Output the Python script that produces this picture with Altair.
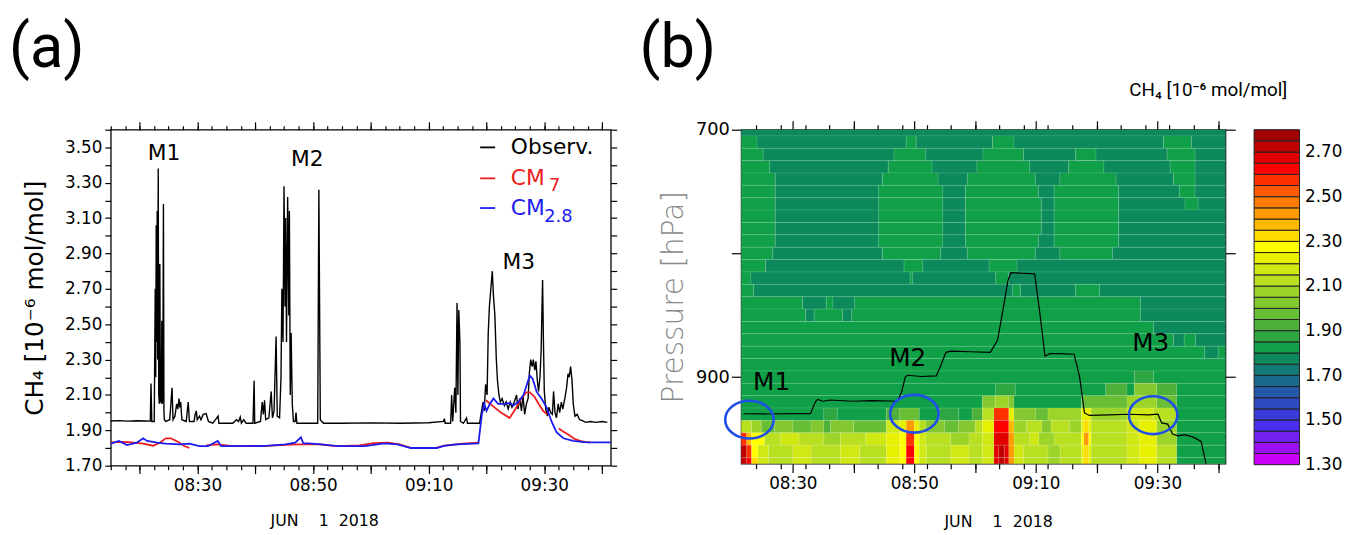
import altair as alt
import pandas as pd

FONT = "DejaVu Sans"

# ---------------- Panel (a): time in minutes after 08:00 (1 June 2018) ----------------
OBS_POINTS = [
    (15.0, 1.953), (16.5, 1.955), (18.0, 1.952), (19.5, 1.954), (21.0, 1.953), (21.84, 1.952),
    (21.96, 2.165), (22.1, 1.95), (22.52, 1.95), (22.69, 2.70), (22.78, 2.20), (22.86, 3.06),
    (22.95, 2.40), (23.03, 3.14), (23.12, 2.30), (23.21, 3.38), (23.3, 2.10), (23.4, 2.05),
    (23.49, 2.84), (23.58, 2.06), (23.66, 2.10), (23.75, 2.05), (23.83, 2.52), (23.92, 2.05),
    (24.0, 2.10), (24.11, 3.18), (24.2, 2.00), (24.28, 1.96), (24.5, 1.95), (25.2, 1.96),
    (25.6, 2.14), (25.77, 1.96), (26.1, 1.98), (26.4, 2.05), (26.6, 2.02), (26.8, 2.08),
    (26.95, 2.03), (27.1, 2.06), (27.3, 1.96), (28.05, 1.95), (28.4, 2.06), (28.6, 1.95),
    (29.4, 1.95), (29.6, 1.99), (29.8, 2.01), (29.95, 1.96), (30.35, 1.98), (30.6, 1.96),
    (31.0, 1.99), (31.5, 1.995), (31.9, 1.95), (32.65, 1.94), (33.57, 1.98), (33.7, 1.94),
    (36.1, 1.94), (36.75, 1.96), (37.1, 1.95), (37.4, 1.975), (37.6, 1.94), (38.0, 1.96),
    (38.4, 1.94), (39.6, 1.94), (39.8, 2.18), (39.9, 1.94), (40.9, 1.95), (41.2, 2.06),
    (41.4, 1.99), (41.6, 2.07), (41.8, 1.96), (42.35, 1.97), (42.75, 2.12), (42.97, 1.97),
    (43.25, 2.01), (43.6, 2.43), (43.8, 1.98), (44.2, 1.97), (44.45, 2.20), (44.6, 2.70),
    (44.8, 2.40), (44.97, 3.28), (45.14, 2.60), (45.25, 3.10), (45.4, 2.40), (45.6, 3.22),
    (45.8, 2.55), (45.9, 3.14), (46.05, 2.10), (46.2, 2.45), (46.4, 2.05), (46.6, 1.95),
    (46.9, 1.95), (47.05, 2.00), (47.2, 1.94), (50.8, 1.94), (51.0, 3.26), (51.25, 1.96),
    (51.8, 1.94), (55.0, 1.94), (60.0, 1.942), (65.0, 1.94), (70.0, 1.943), (72.55, 1.95),
    (72.7, 1.966), (72.85, 1.94), (73.8, 1.94), (73.97, 2.10), (74.15, 1.95), (74.5, 2.14),
    (74.7, 2.00), (74.9, 2.62), (75.05, 2.10), (75.2, 2.58), (75.4, 2.40), (75.5, 1.95),
    (76.0, 1.94), (76.55, 1.97), (76.7, 1.94), (78.8, 1.94), (79.15, 2.01), (79.4, 2.06),
    (79.6, 2.01), (79.85, 2.16), (80.1, 2.10), (80.3, 2.45), (80.5, 2.60), (80.8, 2.72),
    (81.0, 2.80), (81.2, 2.66), (81.45, 2.55), (81.7, 2.30), (81.9, 2.18), (82.15, 2.10),
    (82.4, 2.06), (82.7, 2.08), (83.1, 2.04), (83.4, 2.06), (83.75, 2.02), (84.1, 2.06),
    (84.4, 2.03), (84.8, 2.06), (85.2, 2.10), (85.45, 2.02), (85.75, 2.08), (86.05, 2.01),
    (86.3, 2.10), (86.6, 1.99), (86.9, 2.05), (87.2, 2.08), (87.4, 2.22), (87.65, 2.30),
    (87.9, 2.26), (88.1, 2.30), (88.35, 2.24), (88.55, 2.29), (88.8, 2.18), (89.0, 2.12),
    (89.25, 2.20), (89.45, 2.35), (89.7, 2.75), (89.85, 2.40), (90.0, 2.12), (90.25, 2.02),
    (90.55, 1.98), (90.8, 2.03), (91.1, 2.00), (91.4, 1.99), (91.6, 2.12), (91.85, 2.00),
    (92.1, 1.97), (92.4, 2.05), (92.65, 2.00), (92.95, 2.06), (93.2, 2.02), (93.55, 2.08),
    (93.85, 2.14), (94.1, 2.22), (94.3, 2.20), (94.55, 2.26), (94.8, 2.18), (95.0, 2.05),
    (95.3, 1.98), (95.7, 1.99), (96.1, 1.96), (96.6, 1.955), (97.15, 1.945), (98.0, 1.95),
    (98.9, 1.945), (100.0, 1.95), (100.9, 1.945),
]

# CM_7 model (segments separated by gaps)
CM7_SEGMENTS = [
    [(15.0, 1.83), (16.5, 1.835), (18.1, 1.833), (20.6, 1.825), (22.3, 1.813), (23.5, 1.83),
     (24.5, 1.855), (25.4, 1.855), (26.6, 1.835), (27.8, 1.81), (28.6, 1.80)],
    [(31.5, 1.815), (33.5, 1.82), (36.0, 1.81), (42.0, 1.812), (47.0, 1.82), (49.0, 1.82),
     (51.0, 1.82), (54.0, 1.81), (58.0, 1.815), (60.5, 1.828), (63.0, 1.83), (65.0, 1.82),
     (67.0, 1.80), (71.0, 1.80), (73.0, 1.815), (76.0, 1.825), (78.6, 1.83)],
    [(79.9, 2.07), (81.0, 2.04), (82.5, 2.00), (84.0, 1.97), (85.0, 2.02), (86.0, 2.08),
     (86.9, 2.115), (87.5, 2.115), (88.3, 2.09), (89.0, 2.05), (89.8, 2.01), (90.5, 1.99)],
    [(92.5, 1.91), (93.4, 1.89), (94.2, 1.875), (95.3, 1.85), (96.2, 1.84), (97.0, 1.835),
     (98.0, 1.832)],
]

# CM_2.8 model
CM28_POINTS = [
    (15.0, 1.825), (16.4, 1.84), (17.8, 1.817), (19.5, 1.83), (20.6, 1.855), (21.3, 1.84),
    (23.0, 1.83), (24.5, 1.825), (27.0, 1.82), (28.6, 1.825), (30.35, 1.81), (31.8, 1.81),
    (33.5, 1.84), (34.1, 1.81), (36.1, 1.81), (41.8, 1.812), (45.2, 1.82), (46.9, 1.83),
    (47.9, 1.86), (48.3, 1.826), (49.2, 1.826), (51.5, 1.82), (54.3, 1.81), (58.9, 1.81),
    (62.3, 1.826), (64.6, 1.82), (66.9, 1.80), (71.4, 1.80), (72.6, 1.812), (74.9, 1.82),
    (78.6, 1.826), (79.2, 1.99), (79.6, 2.05), (80.0, 2.01), (80.6, 2.05), (81.2, 2.08),
    (82.0, 2.05), (83.2, 2.05), (84.1, 2.055), (84.6, 2.04), (85.5, 2.06), (86.4, 2.10),
    (87.1, 2.17), (87.5, 2.21), (88.0, 2.19), (88.65, 2.12), (89.5, 2.08), (90.4, 2.03),
    (91.25, 1.95), (92.1, 1.89), (93.3, 1.855), (95.0, 1.84), (97.3, 1.832), (101.5, 1.832),
]

EVENT_LABELS = ["M1", "M2", "M3"]
EVENT_T_A = [24.2, 49.0, 85.6]
EVENT_V_A = [3.468, 3.434, 2.853]

LEGEND_NAMES = ["Observ.", "CM", "CM"]
LEGEND_SUBS = ["", "7", "2.8"]
LEGEND_COLORS = ["black", "#ee1c1c", "#1c1cf0"]
LEGEND_V = [3.50, 3.325, 3.157]
LEGEND_SUB_T = [None, 90.8, 90.0]
LEGEND_SUB_V = [None, 3.283, 3.108]

# ---------------- Panel (b): model CH4 curtain (pressure levels, hPa) ----------------
D, G = 1.78, 1.83
HEAT_ROWS = {
    700: [(21.5, 101.2, D)],
    710: [(21.5, 24.1, G), (24.1, 48.65, D), (48.65, 50.3, G), (50.3, 62.85, D), (62.85, 66.4, G),
          (66.4, 91.0, D), (91.0, 95.6, G), (95.6, 101.2, D)],
    720: [(21.5, 25.1, G), (25.1, 46.65, D), (46.65, 51.9, G), (51.9, 61.3, D), (61.3, 68.0, G),
          (68.0, 76.55, D), (76.55, 79.9, G), (79.9, 91.6, D), (91.6, 96.2, G), (96.2, 101.2, D)],
    730: [(21.5, 26.2, G), (26.2, 45.7, D), (45.7, 52.9, G), (52.9, 60.3, D), (60.3, 69.0, G),
          (69.0, 75.4, D), (75.4, 81.2, G), (81.2, 92.1, D), (92.1, 96.2, G), (96.2, 101.2, D)],
    740: [(21.5, 27.1, G), (27.1, 44.75, D), (44.75, 53.9, G), (53.9, 58.7, D), (58.7, 69.9, G),
          (69.9, 73.95, D), (73.95, 83.2, G), (83.2, 92.65, D), (92.65, 96.2, G), (96.2, 101.2, D)],
    750: [(21.5, 27.1, G), (27.1, 44.15, D), (44.15, 54.7, G), (54.7, 58.4, D), (58.4, 70.4, G),
          (70.4, 73.0, D), (73.0, 83.6, G), (83.6, 93.6, D), (93.6, 96.2, G), (96.2, 101.2, D)],
    760: [(21.5, 27.1, G), (27.1, 44.15, D), (44.15, 54.7, G), (54.7, 58.4, D), (58.4, 70.9, G),
          (70.9, 73.0, D), (73.0, 83.6, G), (83.6, 94.55, D), (94.55, 96.7, G), (96.7, 101.2, D)],
    770: [(21.5, 27.1, G), (27.1, 44.15, D), (44.15, 54.7, G), (54.7, 58.4, D), (58.4, 70.9, G),
          (70.9, 73.0, D), (73.0, 83.6, G), (83.6, 101.2, D)],
    780: [(21.5, 27.1, G), (27.1, 44.15, D), (44.15, 54.7, G), (54.7, 58.4, D), (58.4, 70.9, G),
          (70.9, 73.0, D), (73.0, 83.6, G), (83.6, 101.2, D)],
    790: [(21.5, 27.1, G), (27.1, 44.15, D), (44.15, 54.7, G), (54.7, 58.4, D), (58.4, 70.4, G),
          (70.4, 73.0, D), (73.0, 83.6, G), (83.6, 101.2, D)],
    800: [(21.5, 26.7, G), (26.7, 44.75, D), (44.75, 54.35, G), (54.35, 58.7, D), (58.7, 69.9, G),
          (69.9, 73.95, D), (73.95, 82.6, G), (82.6, 101.2, D)],
    810: [(21.5, 25.5, G), (25.5, 48.3, D), (48.3, 51.4, G), (51.4, 62.3, D), (62.3, 66.9, G),
          (66.9, 101.2, D)],
    820: [(21.5, 23.1, G), (23.1, 49.3, D), (49.3, 49.75, G), (49.75, 63.4, D), (63.4, 65.55, G),
          (65.55, 101.2, D)],
    830: [(21.5, 23.55, G), (23.55, 66.2, D), (66.2, 67.45, G), (67.45, 76.55, D), (76.55, 80.46, G),
          (80.46, 101.2, D)],
    840: [(21.5, 31.6, G), (31.6, 35.5, D), (35.5, 36.6, G), (36.6, 40.2, D), (40.2, 87.2, G),
          (87.2, 101.2, D)],
    850: [(21.5, 32.1, G), (32.1, 33.5, D), (33.5, 38.2, G), (38.2, 39.7, D), (39.7, 87.2, G),
          (87.2, 101.2, D)],
    860: [(21.5, 89.4, G), (89.4, 101.2, D)],
    870: [(21.5, 92.65, G), (92.65, 94.4, D), (94.4, 96.3, G), (96.3, 101.2, D)],
    880: [(21.5, 97.8, G), (97.8, 100.0, D), (100.0, 101.2, G)],
    890: [(21.5, 101.2, G)],
    900: [(21.5, 86.2, G), (86.2, 89.4, 1.88), (89.4, 101.2, G)],
    910: [(21.5, 63.4, G), (63.4, 66.6, 1.88), (66.6, 81.5, G), (81.5, 85.0, 1.93), (85.0, 86.2, G),
          (86.2, 89.9, 2.03), (89.9, 93.2, 1.93), (93.2, 101.2, G)],
    920: [(21.5, 61.2, G), (61.2, 63.3, 2.03), (63.3, 65.55, 2.08), (65.55, 66.4, 2.03), (66.4, 77.5, G),
          (77.5, 85.0, 1.98), (85.0, 89.9, 2.08), (89.9, 93.2, 1.98), (93.2, 101.2, G)],
    930: [(21.5, 35.1, G), (35.1, 37.3, 1.88), (37.3, 45.4, G), (45.4, 47.6, 1.93), (47.6, 50.8, 1.98),
          (50.8, 54.1, G), (54.1, 57.3, 1.88), (57.3, 59.5, G), (59.5, 61.2, 1.93), (61.2, 63.1, 2.13),
          (63.1, 65.55, 2.58), (65.55, 66.4, 2.23), (66.4, 70.0, 2.03), (70.0, 72.0, 1.98), (72.0, 77.5, 2.08),
          (77.5, 79.1, 2.23), (79.1, 85.0, 2.08), (85.0, 89.4, 2.18), (89.4, 93.2, 2.13), (93.2, 101.2, G)],
    940: [(21.5, 23.2, 2.13), (23.2, 24.8, 2.08), (24.8, 27.0, 1.98), (27.0, 30.0, 2.03), (30.0, 33.0, 1.98),
          (33.0, 35.1, 2.03), (35.1, 36.2, 1.93), (36.2, 40.0, 2.03), (40.0, 45.4, 1.98), (45.4, 47.6, 2.18),
          (47.6, 48.65, 2.23), (48.65, 50.0, 2.43), (50.0, 50.8, 2.23), (50.8, 51.9, 2.13), (51.9, 55.0, 2.03),
          (55.0, 57.3, 1.98), (57.3, 60.0, 2.03), (60.0, 61.2, 2.13), (61.2, 63.1, 2.23), (63.1, 65.55, 2.63),
          (65.55, 66.4, 2.38), (66.4, 68.5, 2.08), (68.5, 71.0, 2.13), (71.0, 72.5, 2.03), (72.5, 75.5, 2.13),
          (75.5, 77.5, 2.08), (77.5, 77.9, 2.23), (77.9, 78.7, 2.33), (78.7, 79.1, 2.23), (79.1, 85.0, 2.13),
          (85.0, 87.0, 2.18), (87.0, 89.9, 2.23), (89.9, 93.2, 2.08), (93.2, 101.2, G)],
    950: [(21.5, 22.4, 2.58), (22.4, 23.2, 2.38), (23.2, 25.35, 2.28), (25.35, 28.0, 2.13), (28.0, 31.0, 2.18),
          (31.0, 35.1, 2.13), (35.1, 37.8, 2.08), (37.8, 42.0, 2.13), (42.0, 45.4, 2.18), (45.4, 47.6, 2.23),
          (47.6, 48.65, 2.28), (48.65, 50.0, 2.58), (50.0, 50.8, 2.28), (50.8, 51.9, 2.18), (51.9, 56.0, 2.13),
          (56.0, 59.0, 2.08), (59.0, 61.2, 2.13), (61.2, 63.1, 2.18), (63.1, 65.55, 2.68), (65.55, 66.4, 2.43),
          (66.4, 69.0, 2.13), (69.0, 70.5, 2.18), (70.5, 73.0, 2.08), (73.0, 77.5, 2.13), (77.5, 77.9, 2.28),
          (77.9, 78.7, 2.43), (78.7, 79.1, 2.28), (79.1, 85.0, 2.13), (85.0, 87.0, 2.18), (87.0, 89.9, 2.23),
          (89.9, 93.2, 2.08), (93.2, 101.2, G)],
    960: [(21.5, 22.4, 2.73), (22.4, 23.2, 2.58), (23.2, 24.25, 2.28), (24.25, 26.0, 2.18), (26.0, 30.0, 2.13),
          (30.0, 33.0, 2.18), (33.0, 37.8, 2.13), (37.8, 41.0, 2.18), (41.0, 45.4, 2.13), (45.4, 47.6, 2.23),
          (47.6, 48.65, 2.28), (48.65, 50.0, 2.63), (50.0, 50.8, 2.28), (50.8, 52.0, 2.18), (52.0, 56.0, 2.13),
          (56.0, 59.0, 2.18), (59.0, 61.2, 2.13), (61.2, 63.1, 2.18), (63.1, 63.9, 2.68), (63.9, 64.8, 2.73),
          (64.8, 65.55, 2.68), (65.55, 66.4, 2.43), (66.4, 68.0, 2.18), (68.0, 72.0, 2.13), (72.0, 74.0, 2.08),
          (74.0, 77.5, 2.13), (77.5, 77.9, 2.23), (77.9, 78.7, 2.33), (78.7, 79.1, 2.23), (79.1, 85.0, 2.13),
          (85.0, 87.0, 2.18), (87.0, 89.9, 2.23), (89.9, 93.2, 2.13), (93.2, 101.2, G)],
    970: [(21.5, 22.4, 2.73), (22.4, 23.2, 2.63), (23.2, 24.25, 2.33), (24.25, 26.0, 2.18), (26.0, 30.0, 2.13),
          (30.0, 33.0, 2.18), (33.0, 37.8, 2.13), (37.8, 41.0, 2.18), (41.0, 45.4, 2.13), (45.4, 47.6, 2.23),
          (47.6, 48.65, 2.28), (48.65, 50.0, 2.63), (50.0, 50.8, 2.28), (50.8, 52.0, 2.18), (52.0, 56.0, 2.13),
          (56.0, 59.0, 2.18), (59.0, 61.2, 2.13), (61.2, 63.1, 2.18), (63.1, 63.9, 2.68), (63.9, 64.8, 2.73),
          (64.8, 65.55, 2.68), (65.55, 66.4, 2.43), (66.4, 68.0, 2.18), (68.0, 72.0, 2.13), (72.0, 74.0, 2.08),
          (74.0, 77.5, 2.13), (77.5, 77.9, 2.23), (77.9, 78.7, 2.33), (78.7, 79.1, 2.23), (79.1, 85.0, 2.13),
          (85.0, 87.0, 2.18), (87.0, 89.9, 2.23), (89.9, 93.2, 2.13), (93.2, 101.2, G)],
}

PRES_POINTS = [
    (21.87, 929.6), (26.0, 929.8), (30.0, 929.5), (32.9, 929.5), (33.7, 920.0), (34.1, 918.0),
    (34.9, 919.5), (36.2, 918.5), (39.8, 919.5), (43.0, 919.0), (47.2, 919.5), (47.9, 912.0),
    (48.5, 900.0), (48.9, 898.5), (51.1, 899.5), (53.6, 899.0), (54.4, 890.0), (55.2, 880.0),
    (56.0, 879.0), (59.3, 879.5), (62.5, 880.0), (63.7, 870.0), (64.6, 845.0), (65.4, 822.0),
    (65.9, 815.5), (67.4, 816.0), (69.8, 816.5), (70.7, 850.0), (71.5, 883.0), (72.3, 881.0),
    (73.9, 881.0), (76.3, 881.5), (77.2, 900.0), (78.0, 929.0), (78.8, 931.0), (82.0, 930.5),
    (85.3, 930.0), (88.5, 930.5), (90.1, 930.0), (90.7, 937.0), (91.7, 938.0), (92.5, 946.0),
    (93.4, 947.5), (94.5, 946.5), (95.9, 948.5), (97.2, 952.0), (98.0, 970.0),
]

EVENT_T_B = [26.5, 48.9, 88.9]
EVENT_P_B = [904.0, 884.8, 872.8]
CIRCLE_T = [22.85, 50.0, 89.3]
CIRCLE_P = [934.4, 929.6, 930.8]

# colour bar: 30 classes of 0.05 from 1.30 to 2.80
CB_COLORS = [
    "#c800f8", "#9a10f0", "#7020f0", "#4a2ef0", "#3a3ad8", "#2e48c0", "#2458a8", "#1a6a8c",
    "#127878", "#0c8a5c", "#10a048", "#2ea642", "#4cb03a", "#68be34", "#84c830", "#9cd42a",
    "#b8e020", "#d0e814", "#e6f000", "#ffff00", "#ffdc00", "#ffb800", "#ff9a00", "#ff7a00",
    "#ff5a00", "#ff3000", "#ff0000", "#e00000", "#c00000", "#a00000",
]
CB_EDGES = [round(1.30 + 0.05 * k, 2) for k in range(31)]
CB_LABELS = [1.3, 1.5, 1.7, 1.9, 2.1, 2.3, 2.5, 2.7]

# ---------------- tables ----------------
obs_df = pd.DataFrame(OBS_POINTS, columns=["t", "v"])
cm7_df = pd.DataFrame([(i, t, v) for i, seg in enumerate(CM7_SEGMENTS) for t, v in seg],
                      columns=["seg", "t", "v"])
cm28_df = pd.DataFrame(CM28_POINTS, columns=["t", "v"])
evA_df = pd.DataFrame({"t": EVENT_T_A, "v": EVENT_V_A, "label": EVENT_LABELS})
leg_df = pd.DataFrame({"name": LEGEND_NAMES, "color": LEGEND_COLORS, "v": LEGEND_V,
                       "t0": 78.9, "t1": 81.5, "tt": 84.2})
sub_df = pd.DataFrame({"sub": LEGEND_SUBS, "color": LEGEND_COLORS, "t": LEGEND_SUB_T,
                       "v": LEGEND_SUB_V}).dropna()

heat_records = []
for lev, segs in HEAT_ROWS.items():
    for t0, t1, val in segs:
        heat_records.append({"t0": t0, "t1": t1, "p0": max(700, lev - 5), "p1": min(970, lev + 5), "ch4": val})
heat_df = pd.DataFrame(heat_records)
pres_df = pd.DataFrame(PRES_POINTS, columns=["t", "p"])
evB_df = pd.DataFrame({"t": EVENT_T_B, "p": EVENT_P_B, "label": EVENT_LABELS})
circ_df = pd.DataFrame({"t": CIRCLE_T, "p": CIRCLE_P})
cb_df = pd.DataFrame({"lo": CB_EDGES[:-1], "hi": CB_EDGES[1:]})
cb_df["mid"] = (cb_df["lo"] + cb_df["hi"]) / 2
cb_df["c0"] = 0.0
cb_df["c1"] = 1.0

color_scale = alt.Scale(type="threshold", domain=CB_EDGES[1:-1], range=CB_COLORS)

# ---------------- helpers ----------------
TIME_LABEL = "datum.value % 20 == 10 ? '0' + floor(8 + datum.value / 60) + ':' + (datum.value % 60) : ''"
DATE_TITLE = "JUN\u00a0\u00a0\u00a0\u00a01\u00a0\u00a02018"


def tick_axis(orient, values, size, **kw):
    props = dict(orient=orient, values=values, tickSize=size, tickWidth=1.2, tickColor="black",
                 domain=False, grid=False, labels=False, title=None)
    props.update(kw)
    return alt.Axis(**props)


# ---------------- panel (a) ----------------
XA = alt.Scale(domain=[15, 101.5], nice=False, zero=False)
YA = alt.Scale(domain=[1.70, 3.60], nice=False, zero=False)
MAJ_A = list(range(20, 101, 10))
MIN_A = [15 + 2.5 * i for i in range(35)]
YT_A = [round(1.7 + 0.1 * i, 1) for i in range(20)]

xa_main = tick_axis("bottom", MAJ_A, 8, labels=True, labelExpr=TIME_LABEL, labelFontSize=17,
                    labelPadding=4, labelFlush=False, title=DATE_TITLE,
                    titleFontSize=16, titleX=216, titleY=56, titleAlign="center", titleBaseline="middle")
ya_main = tick_axis("left", YT_A, 6, labels=True,
                    labelExpr="round(datum.value * 10) % 2 == 1 ? format(datum.value, '.2f') : ''",
                    labelFontSize=17, labelPadding=3, minExtent=54, maxExtent=54,
                    title="CH\u2084 [10\u207b\u2076 mol/mol]", titleFontSize=25, titlePadding=10)

obs = alt.Chart(obs_df).mark_line(color="black", strokeWidth=1.4).encode(
    x=alt.X("t:Q", scale=XA, axis=xa_main),
    y=alt.Y("v:Q", scale=YA, axis=ya_main),
)
cm7 = alt.Chart(cm7_df).mark_line(color="#ee1c1c", strokeWidth=1.8).encode(
    x=alt.X("t:Q", scale=XA, axis=tick_axis("bottom", MIN_A, 4)),
    y=alt.Y("v:Q", scale=YA, axis=tick_axis("right", YT_A, 6)),
    detail="seg:N",
)
cm28 = alt.Chart(cm28_df).mark_line(color="#1c1cf0", strokeWidth=1.8).encode(
    x=alt.X("t:Q", scale=XA, axis=tick_axis("top", MAJ_A, 8)),
    y=alt.Y("v:Q", scale=YA, axis=None),
)
evA = alt.Chart(evA_df).mark_text(fontSize=22, font=FONT, align="center", baseline="middle").encode(
    x=alt.X("t:Q", scale=XA, axis=tick_axis("top", MIN_A, 4)),
    y=alt.Y("v:Q", scale=YA, axis=None),
    text="label:N",
)
leg_rule = alt.Chart(leg_df).mark_rule(strokeWidth=1.8).encode(
    x=alt.X("t0:Q", scale=XA, axis=None), x2="t1:Q",
    y=alt.Y("v:Q", scale=YA, axis=None),
    color=alt.Color("color:N", scale=None),
)
leg_text = alt.Chart(leg_df).mark_text(fontSize=22, font=FONT, align="left", baseline="middle").encode(
    x=alt.X("tt:Q", scale=XA, axis=None),
    y=alt.Y("v:Q", scale=YA, axis=None),
    text="name:N",
    color=alt.Color("color:N", scale=None),
)
leg_sub = alt.Chart(sub_df).mark_text(fontSize=18, font=FONT, align="left", baseline="middle").encode(
    x=alt.X("t:Q", scale=XA, axis=None),
    y=alt.Y("v:Q", scale=YA, axis=None),
    text="sub:N",
    color=alt.Color("color:N", scale=None),
)

panel_a = alt.layer(obs, cm7, cm28, evA, leg_rule, leg_text, leg_sub).resolve_axis(
    x="independent", y="independent"
).properties(
    width=506, height=340,
    title=alt.TitleParams("(a)", anchor="start", fontSize=62, font="Roboto", fontWeight="normal",
                          offset=-20, dx=-14, baseline="bottom"),
)

# ---------------- panel (b) ----------------
XB = alt.Scale(domain=[21.5, 101.2], nice=False, zero=False)
YB = alt.Scale(domain=[700, 970], nice=False, zero=False, reverse=True)
MAJ_B = list(range(30, 101, 10))
MIN_B = list(range(24, 101, 4))
YT_B = [700, 800, 900]

xb_main = tick_axis("bottom", MAJ_B, 9, labels=True, labelExpr=TIME_LABEL, labelFontSize=17,
                    labelPadding=3, labelFlush=False, title=DATE_TITLE,
                    titleFontSize=16, titleX=260, titleY=59, titleAlign="center", titleBaseline="middle")
yb_main = tick_axis("left", YT_B, 10, labels=True,
                    labelExpr="datum.value == 800 ? '' : datum.label",
                    labelFontSize=18, labelPadding=2, minExtent=48, maxExtent=48,
                    title="Pressure [hPa]", titleFontSize=30, titleFontWeight=300,
                    titleColor="#8a8a8a", titlePadding=5)

heat = alt.Chart(heat_df).mark_rect(stroke="white", strokeOpacity=0.18, strokeWidth=0.6).encode(
    x=alt.X("t0:Q", scale=XB, axis=xb_main), x2="t1:Q",
    y=alt.Y("p0:Q", scale=YB, axis=yb_main), y2="p1:Q",
    color=alt.Color("ch4:Q", scale=color_scale, legend=None),
)
pres = alt.Chart(pres_df).mark_line(color="black", strokeWidth=1.2).encode(
    x=alt.X("t:Q", scale=XB, axis=tick_axis("bottom", MIN_B, 5)),
    y=alt.Y("p:Q", scale=YB, axis=tick_axis("right", YT_B, 10)),
)
ELLIPSE = ("M 1 0 C 1 0.431 0.552 0.78 0 0.78 C -0.552 0.78 -1 0.431 -1 0 "
           "C -1 -0.431 -0.552 -0.78 0 -0.78 C 0.552 -0.78 1 -0.431 1 0 Z")
circ = alt.Chart(circ_df).mark_point(shape=ELLIPSE, size=2401, filled=False, color="#1f4fe6",
                                     strokeWidth=2.6, opacity=1).encode(
    x=alt.X("t:Q", scale=XB, axis=tick_axis("top", MAJ_B, 9)),
    y=alt.Y("p:Q", scale=YB, axis=None),
)
evB = alt.Chart(evB_df).mark_text(fontSize=25, font=FONT, align="center", baseline="middle").encode(
    x=alt.X("t:Q", scale=XB, axis=tick_axis("top", MIN_B, 5)),
    y=alt.Y("p:Q", scale=YB, axis=None),
    text="label:N",
)
inner_b = alt.layer(heat, pres, circ, evB).resolve_axis(x="independent", y="independent")

cbar = alt.Chart(cb_df).mark_rect(stroke="#222222", strokeWidth=1).encode(
    x=alt.X("c0:Q", scale=alt.Scale(domain=[0, 1], range=[519, 565]),
            axis=alt.Axis(orient="top", ticks=False, labels=False, domain=False, grid=False,
                          title="CH\u2084 [10\u207b\u2076 mol/mol]", titleX=552, titleY=-41,
                          titleAlign="right", titleBaseline="middle", titleFontSize=19,
                          titleFont="Roboto", titleFontWeight="normal")),
    x2="c1:Q",
    y=alt.Y("lo:Q", scale=alt.Scale(domain=[1.30, 2.80], range=[339, 0], nice=False, zero=False),
            axis=alt.Axis(orient="right", offset=75, values=CB_LABELS, format=".2f", ticks=False,
                          domain=False, grid=False, labelPadding=5, labelFontSize=17, title=None)),
    y2="hi:Q",
    color=alt.Color("mid:Q", scale=color_scale, legend=None),
)

panel_b = alt.layer(inner_b, cbar).resolve_scale(x="independent", y="independent").properties(
    width=490, height=338,
    title=alt.TitleParams("(b)", anchor="start", fontSize=62, font="Roboto", fontWeight="normal",
                          offset=-62, dx=-20, baseline="bottom"),
)

chart = alt.hconcat(panel_a, panel_b, spacing=132, bounds="flush").properties(
    padding={"left": 0, "top": 5, "right": 2, "bottom": 2}
).configure_view(stroke="black", strokeWidth=1.3).configure_axis(
    labelFont=FONT, titleFont=FONT, labelColor="black", titleColor="black", titleFontWeight="normal"
)

chart.save("out.html", embed_options={"renderer": "svg", "actions": False})
